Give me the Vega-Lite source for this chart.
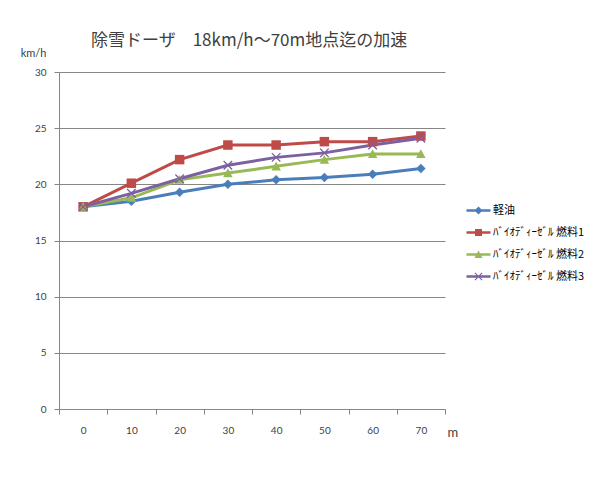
{
  "$schema": "https://vega.github.io/schema/vega-lite/v6.json",
  "autosize": {"type": "none"},
  "width": 386,
  "height": 337,
  "padding": {"left": 59, "top": 72, "right": 150, "bottom": 68},
  "background": "white",
  "title": {
    "text": "除雪ドーザ　18km/h～70m地点迄の加速",
    "anchor": "start",
    "frame": "group",
    "dx": 32,
    "dy": 25,
    "offset": 22,
    "font": "Noto Sans CJK JP",
    "fontSize": 17,
    "fontWeight": "normal",
    "color": "#404040"
  },
  "data": {
    "values": [
      {"m": "0", "series": "軽油", "v": 18.0},
      {"m": "10", "series": "軽油", "v": 18.5},
      {"m": "20", "series": "軽油", "v": 19.3},
      {"m": "30", "series": "軽油", "v": 20.0},
      {"m": "40", "series": "軽油", "v": 20.4},
      {"m": "50", "series": "軽油", "v": 20.6},
      {"m": "60", "series": "軽油", "v": 20.9},
      {"m": "70", "series": "軽油", "v": 21.4},
      {"m": "0", "series": "ﾊﾞｲｵﾃﾞｨｰｾﾞﾙ 燃料1", "v": 18.0},
      {"m": "10", "series": "ﾊﾞｲｵﾃﾞｨｰｾﾞﾙ 燃料1", "v": 20.1},
      {"m": "20", "series": "ﾊﾞｲｵﾃﾞｨｰｾﾞﾙ 燃料1", "v": 22.2},
      {"m": "30", "series": "ﾊﾞｲｵﾃﾞｨｰｾﾞﾙ 燃料1", "v": 23.5},
      {"m": "40", "series": "ﾊﾞｲｵﾃﾞｨｰｾﾞﾙ 燃料1", "v": 23.5},
      {"m": "50", "series": "ﾊﾞｲｵﾃﾞｨｰｾﾞﾙ 燃料1", "v": 23.8},
      {"m": "60", "series": "ﾊﾞｲｵﾃﾞｨｰｾﾞﾙ 燃料1", "v": 23.8},
      {"m": "70", "series": "ﾊﾞｲｵﾃﾞｨｰｾﾞﾙ 燃料1", "v": 24.3},
      {"m": "0", "series": "ﾊﾞｲｵﾃﾞｨｰｾﾞﾙ 燃料2", "v": 18.0},
      {"m": "10", "series": "ﾊﾞｲｵﾃﾞｨｰｾﾞﾙ 燃料2", "v": 18.8},
      {"m": "20", "series": "ﾊﾞｲｵﾃﾞｨｰｾﾞﾙ 燃料2", "v": 20.4},
      {"m": "30", "series": "ﾊﾞｲｵﾃﾞｨｰｾﾞﾙ 燃料2", "v": 21.0},
      {"m": "40", "series": "ﾊﾞｲｵﾃﾞｨｰｾﾞﾙ 燃料2", "v": 21.6},
      {"m": "50", "series": "ﾊﾞｲｵﾃﾞｨｰｾﾞﾙ 燃料2", "v": 22.2},
      {"m": "60", "series": "ﾊﾞｲｵﾃﾞｨｰｾﾞﾙ 燃料2", "v": 22.7},
      {"m": "70", "series": "ﾊﾞｲｵﾃﾞｨｰｾﾞﾙ 燃料2", "v": 22.7},
      {"m": "0", "series": "ﾊﾞｲｵﾃﾞｨｰｾﾞﾙ 燃料3", "v": 18.0},
      {"m": "10", "series": "ﾊﾞｲｵﾃﾞｨｰｾﾞﾙ 燃料3", "v": 19.2},
      {"m": "20", "series": "ﾊﾞｲｵﾃﾞｨｰｾﾞﾙ 燃料3", "v": 20.5},
      {"m": "30", "series": "ﾊﾞｲｵﾃﾞｨｰｾﾞﾙ 燃料3", "v": 21.7},
      {"m": "40", "series": "ﾊﾞｲｵﾃﾞｨｰｾﾞﾙ 燃料3", "v": 22.4},
      {"m": "50", "series": "ﾊﾞｲｵﾃﾞｨｰｾﾞﾙ 燃料3", "v": 22.8},
      {"m": "60", "series": "ﾊﾞｲｵﾃﾞｨｰｾﾞﾙ 燃料3", "v": 23.5},
      {"m": "70", "series": "ﾊﾞｲｵﾃﾞｨｰｾﾞﾙ 燃料3", "v": 24.1}
    ]
  },
  "encoding": {
    "x": {
      "field": "m",
      "type": "ordinal",
      "sort": null,
      "scale": {"type": "band", "paddingInner": 0, "paddingOuter": 0},
      "axis": {
        "title": "m",
        "titleAngle": 0,
        "titleX": 388,
        "titleY": 23,
        "titleAlign": "left",
        "titleBaseline": "middle",
        "titleFont": "Lato",
        "titleFontSize": 13,
        "titleFontWeight": "normal",
        "titleColor": "#404040",
        "labelAngle": 0,
        "labelFont": "Lato",
        "labelFontSize": 10,
        "labelColor": "#404040",
        "labelPadding": 11,
        "tickBand": "extent",
        "tickSize": 5,
        "tickColor": "#868686",
        "domainColor": "#868686",
        "grid": false
      }
    },
    "y": {
      "field": "v",
      "type": "quantitative",
      "scale": {"domain": [0, 30], "nice": false, "zero": true},
      "axis": {
        "title": "km/h",
        "titleAngle": 0,
        "titleX": -26,
        "titleY": -19,
        "titleAlign": "center",
        "titleBaseline": "middle",
        "titleFont": "Lato",
        "titleFontSize": 11,
        "titleFontWeight": "normal",
        "titleColor": "#404040",
        "values": [0, 5, 10, 15, 20, 25, 30],
        "labelFont": "Lato",
        "labelFontSize": 10,
        "labelColor": "#404040",
        "labelPadding": 8,
        "tickSize": 5,
        "tickColor": "#868686",
        "domainColor": "#868686",
        "grid": true,
        "gridColor": "#868686",
        "gridWidth": 1
      }
    },
    "color": {
      "field": "series",
      "type": "nominal",
      "scale": {
        "domain": ["軽油", "ﾊﾞｲｵﾃﾞｨｰｾﾞﾙ 燃料1", "ﾊﾞｲｵﾃﾞｨｰｾﾞﾙ 燃料2", "ﾊﾞｲｵﾃﾞｨｰｾﾞﾙ 燃料3"],
        "range": ["#4A7EBB", "#BE4B48", "#98B954", "#7D60A0"]
      },
      "legend": {
        "title": null,
        "orient": "none",
        "legendX": 407,
        "legendY": 133,
        "symbolSize": 100,
        "labelOffset": 16,
        "rowPadding": 10,
        "labelFont": "Noto Sans CJK JP",
        "labelFontSize": 11,
        "labelColor": "#000000",
        "encode": {
          "symbols": {
            "update": {
              "shape": {
                "signal": "datum.value === '軽油' ? 'M-1,-0.25H3.8V0.25H-1Z M1.4,-0.8L2.2,0L1.4,0.8L0.6,0Z' : datum.value === 'ﾊﾞｲｵﾃﾞｨｰｾﾞﾙ 燃料1' ? 'M-1,-0.25H3.8V0.25H-1Z M0.7,-0.7H2.1V0.7H0.7Z' : datum.value === 'ﾊﾞｲｵﾃﾞｨｰｾﾞﾙ 燃料2' ? 'M-1,-0.25H3.8V0.25H-1Z M1.4,-0.8L2.2,0.7L0.6,0.7Z' : 'M-1,-0.25H3.8V0.25H-1Z M0.6,-0.64L0.76,-0.8L1.4,-0.16L2.04,-0.8L2.2,-0.64L1.56,0L2.2,0.64L2.04,0.8L1.4,0.16L0.76,0.8L0.6,0.64L1.24,0Z'"
              },
              "fill": {"scale": "color", "field": "value"},
              "strokeWidth": {"value": 0},
              "opacity": {"value": 1}
            }
          }
        }
      }
    }
  },
  "layer": [
    {
      "mark": {"type": "line", "strokeWidth": 3}
    },
    {
      "transform": [{"filter": "datum.series === '軽油'"}],
      "mark": {"type": "point", "filled": true, "opacity": 1, "size": 90, "strokeWidth": 0, "shape": "M0,-1L1,0L0,1L-1,0Z"}
    },
    {
      "transform": [{"filter": "datum.series === 'ﾊﾞｲｵﾃﾞｨｰｾﾞﾙ 燃料1'"}],
      "mark": {"type": "point", "filled": true, "opacity": 1, "size": 90, "strokeWidth": 0, "shape": "M-1,-1H1V1H-1Z"}
    },
    {
      "transform": [{"filter": "datum.series === 'ﾊﾞｲｵﾃﾞｨｰｾﾞﾙ 燃料2'"}],
      "mark": {"type": "point", "filled": true, "opacity": 1, "size": 90, "strokeWidth": 0, "shape": "M0,-1L1,0.85L-1,0.85Z"}
    },
    {
      "transform": [{"filter": "datum.series === 'ﾊﾞｲｵﾃﾞｨｰｾﾞﾙ 燃料3'"}],
      "mark": {"type": "point", "filled": true, "opacity": 1, "size": 90, "strokeWidth": 0, "shape": "M-1,-0.8L-0.8,-1L0,-0.2L0.8,-1L1,-0.8L0.2,0L1,0.8L0.8,1L0,0.2L-0.8,1L-1,0.8L-0.2,0Z"}
    }
  ],
  "config": {
    "view": {"stroke": null}
  }
}
